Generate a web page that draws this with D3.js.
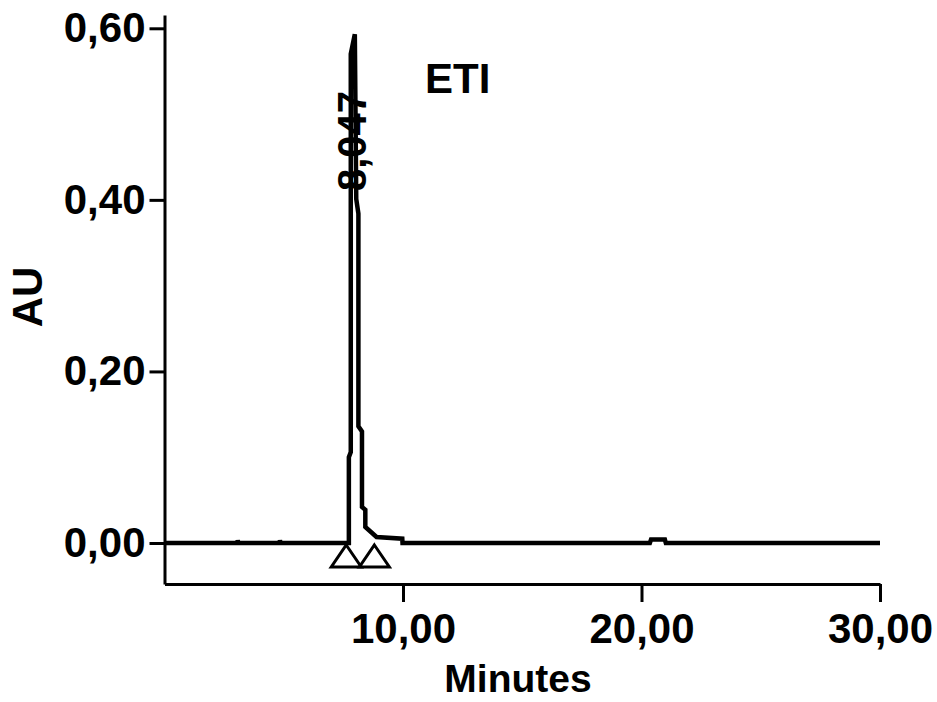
<!DOCTYPE html>
<html>
<head>
<meta charset="utf-8">
<script src="https://cdn.jsdelivr.net/npm/d3@7"></script>
<style>
  html, body { margin: 0; padding: 0; background: #ffffff; }
  svg { display: block; }
  text { font-family: "Liberation Sans", Arial, sans-serif; font-weight: bold; fill: #000; }
</style>
</head>
<body>
<svg id="chart" width="937" height="702"></svg>
<script>
// ---- data ----
const traceTime = [0, 3.05, 3.07, 3.10, 4.82, 4.84, 4.87, 7.60, 7.73, 7.73, 7.81, 7.81, 7.98, 8.04, 8.13, 8.13, 8.28, 8.28, 8.42, 8.42, 8.61, 8.89, 9.97, 9.98, 20.35, 20.40, 20.98, 21.02, 30];
const traceAU   = [0, 0, 0.003, 0, 0, 0.003, 0, 0, 0, 0.100, 0.106, 0.570, 0.593, 0.401, 0.384, 0.136, 0.130, 0.042, 0.0386, 0.0187, 0.014, 0.007, 0.005, 0, 0, 0.004, 0.004, 0, 0];
const markerTimes = [7.62, 8.80];
const peakLabel = "8,047";
const peakLabelTime = 8.047;
const yMajorTicks = [0, 0.2, 0.4, 0.6];
const yMinorTicks = [0.04, 0.08, 0.12, 0.16, 0.24, 0.28, 0.32, 0.36, 0.44, 0.48, 0.52, 0.56];
const xMajorTicks = [10, 20, 30];
const xMinorTicks = [2, 4, 6, 8, 12, 14, 16, 18, 22, 24, 26, 28];
const sampleName = "ETI";
const xTitle = "Minutes";
const yTitle = "AU";

// ---- layout ----
const svg = d3.select("#chart");
const x = d3.scaleLinear().domain([0, 30]).range([164.5, 880]);
const y = d3.scaleLinear().domain([-0.0478, 0.6155]).range([584, 15]);
const fmt = v => d3.format(".2f")(v).replace(".", ",");

// y axis
const yMajor = d3.axisLeft(y).tickValues(yMajorTicks).tickFormat(fmt).tickSizeInner(15).tickSizeOuter(0).tickPadding(4);
const yMinor = d3.axisLeft(y).tickValues(yMinorTicks).tickFormat("").tickSizeInner(4).tickSizeOuter(0);
const gy = svg.append("g").attr("transform", `translate(${x(0)},0)`);
gy.call(yMinor);
gy.call(yMajor);
gy.selectAll("path, line").attr("stroke", "#000").attr("stroke-width", 3);
gy.selectAll("text").style("font-size", "42px").style("font-family", '"Liberation Sans", Arial, sans-serif').style("font-weight", "bold");

// x axis
const xMajor = d3.axisBottom(x).tickValues(xMajorTicks).tickFormat(fmt).tickSizeInner(18).tickSizeOuter(0).tickPadding(11);
const xMinor = d3.axisBottom(x).tickValues(xMinorTicks).tickFormat("").tickSizeInner(9).tickSizeOuter(0);
const gx = svg.append("g").attr("transform", `translate(0,${y.range()[0]})`);
gx.call(xMinor);
gx.call(xMajor);
gx.selectAll("path, line").attr("stroke", "#000").attr("stroke-width", 3);
gx.selectAll("text").style("font-size", "42px").style("font-family", '"Liberation Sans", Arial, sans-serif').style("font-weight", "bold");

// trace
const pts = traceTime.map((t, i) => [t, traceAU[i]]);
svg.append("path")
  .datum(pts)
  .attr("fill", "none")
  .attr("stroke", "#000")
  .attr("stroke-width", 4.5)
  .attr("stroke-linejoin", "miter")
  .attr("d", d3.line().x(d => x(d[0])).y(d => y(d[1])));

// peak start / end markers (triangles)
const triH = 22, triW = 15;
svg.selectAll("path.marker")
  .data(markerTimes)
  .enter().append("path")
  .attr("class", "marker")
  .attr("fill", "none")
  .attr("stroke", "#000")
  .attr("stroke-width", 3)
  .attr("d", t => {
    const cx = x(t), top = y(0) + 2;
    return `M${cx},${top}L${cx + triW},${top + triH}L${cx - triW},${top + triH}Z`;
  });

// peak label
svg.append("text")
  .attr("transform", `translate(${x(peakLabelTime) + 10},141) rotate(-90)`)
  .attr("text-anchor", "middle")
  .style("font-size", "40px")
  .text(peakLabel);

// sample name
svg.append("text")
  .attr("x", 425).attr("y", 93)
  .style("font-size", "42px")
  .text(sampleName);

// axis titles
svg.append("text")
  .attr("x", 518).attr("y", 692)
  .attr("text-anchor", "middle")
  .style("font-size", "39px")
  .text(xTitle);

svg.append("text")
  .attr("transform", "translate(42,297) rotate(-90)")
  .attr("text-anchor", "middle")
  .style("font-size", "42px")
  .text(yTitle);
</script>
</body>
</html>
